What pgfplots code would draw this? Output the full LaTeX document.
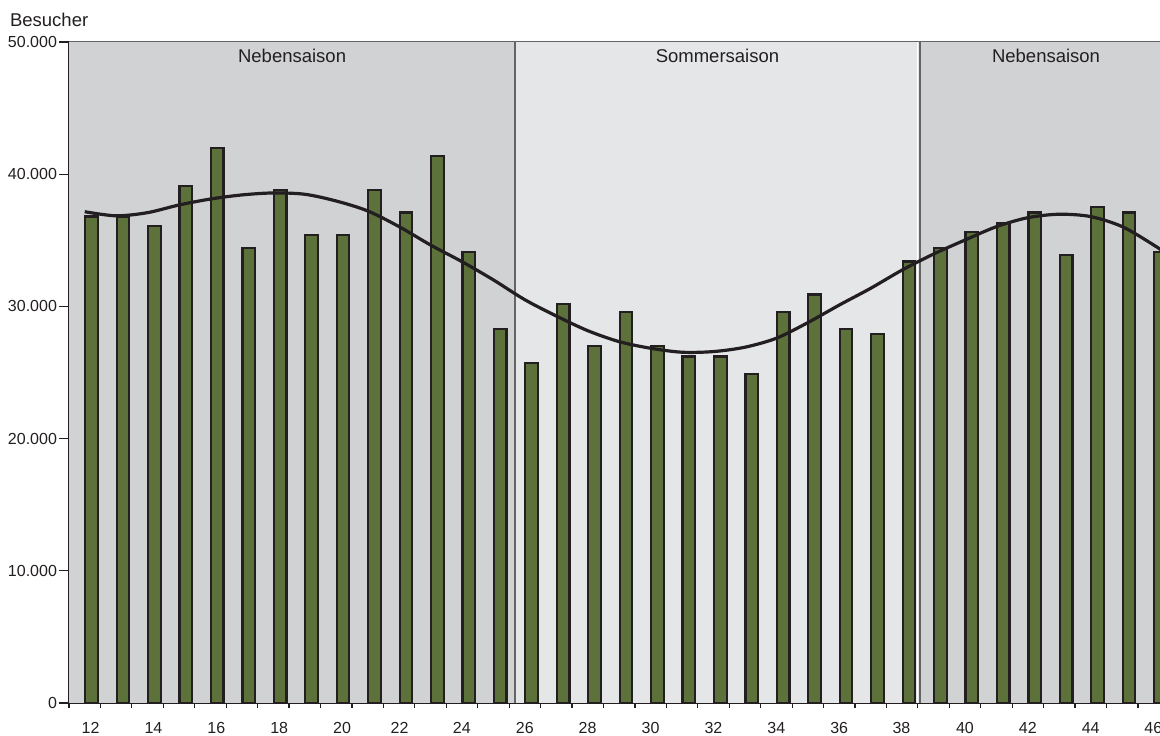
\documentclass[border=0pt]{standalone}
\usepackage{fontspec}
\setmainfont{Liberation Sans}
\usepackage{pgfplots}
\pgfplotsset{compat=1.18}
\usepackage{pgfplotstable}
\definecolor{barfill}{RGB}{92,114,58}
\definecolor{ink}{RGB}{35,31,32}
\definecolor{bgdark}{RGB}{209,210,212}
\definecolor{bglight}{RGB}{229,230,232}
\definecolor{gridc}{RGB}{100,100,102}

% week, visitors, smoothed trend
\pgfplotstableread{
wk visitors trend
12 36800 37160
13 36800 36850
14 36100 37090
15 39100 37670
16 42000 38120
17 34400 38430
18 38800 38580
19 35400 38480
20 35400 37970
21 38800 37220
22 37100 36030
23 41400 34640
24 34100 33380
25 28300 32000
26 25700 30500
27 30200 29270
28 27000 28160
29 29600 27330
30 27000 26830
31 26200 26530
32 26200 26580
33 24900 26910
34 29600 27590
35 30900 28770
36 28300 30100
37 27900 31370
38 33400 32750
39 34400 33960
40 35600 35020
41 36300 36030
42 37100 36710
43 33900 36970
44 37500 36790
45 37100 36030
46 34100 34640
47 nan   33050
}\besucher

\begin{document}
\begin{tikzpicture}[font=\fontsize{9.25}{11}\selectfont]
\begin{axis}[
    set layers,
    scale only axis,
    width=551.6pt, height=330.5pt,
    xmin=11.284, xmax=46.37,
    ymin=0, ymax=50000,
    axis lines=left,
    axis line style={-, draw=ink, line width=1pt},
    tick align=outside,
    tick style={draw=ink, line width=0.6pt},
    major tick length=2.5pt,
    xtick={11.284,12.284,...,46.3},
    xticklabels={},
    extra x ticks={11.97,13.97,15.97,17.97,19.97,21.8,23.78,25.78,27.78,29.78,31.78,33.78,35.78,37.76,39.78,41.78,43.78,45.77},
    extra x tick labels={12,14,16,18,20,22,24,26,28,30,32,34,36,38,40,42,44,46},
    extra x tick style={major tick length=0pt, grid=none},
    xticklabel style={yshift=-6pt},
    ytick={0,10000,...,50000},
    extra y ticks={0,10000,...,50000},
    extra y tick labels={},
    extra y tick style={major tick length=5pt, grid=none},
    ymajorgrids,
    grid style={gridc, line width=0.6pt},
    scaled y ticks=false,
    unbounded coords=discard,
    tick label style={font=\fontsize{8}{9.6}\selectfont, text=ink},
    /pgf/number format/.cd, 1000 sep={.}, assume math mode=true,
]
    % season backgrounds
    \fill[bgdark, on layer=axis background] (axis cs:11.284,0) rectangle (axis cs:25.47,50000);
    \fill[bglight, on layer=axis background] (axis cs:25.47,0) rectangle (axis cs:38.35,50000);
    \fill[bgdark, on layer=axis background] (axis cs:38.35,0) rectangle (axis cs:46.37,50000);
    \draw[white, line width=0.6pt, on layer=axis background] (axis cs:38.26,0) -- (axis cs:38.26,50000);
    \draw[gridc, line width=0.6pt, on layer=axis background] (axis cs:25.47,0) -- (axis cs:25.47,50000);
    \draw[gridc, line width=0.6pt, on layer=axis background] (axis cs:38.35,0) -- (axis cs:38.35,50000);

    \addplot[ybar, bar width=0.4, fill=barfill, draw=ink, line width=1.1pt]
        table[x=wk, y=visitors] {\besucher};
    \addplot[ink, line width=1.6pt, smooth, no markers]
        table[x expr=\thisrow{wk}-0.216, y=trend] {\besucher};

    \coordinate (TL) at (rel axis cs:0,1);
    \coordinate (BL) at (rel axis cs:0,0);
    \coordinate (TR) at (axis cs:45.985,50000);
    \coordinate (S1) at (axis cs:18.38,48480);
    \coordinate (S2) at (axis cs:31.91,48480);
    \coordinate (S3) at (axis cs:42.36,48480);
\end{axis}
\node[anchor=base, text=ink] at (S1) {Nebensaison};
\node[anchor=base, text=ink] at (S2) {Sommersaison};
\node[anchor=base, text=ink] at (S3) {Nebensaison};
\node[anchor=base west, text=ink] at ([xshift=-33pt,yshift=7.5pt]TL) {Besucher};
\pgfresetboundingbox
\path[use as bounding box] ([xshift=-34.5pt,yshift=-16.5pt]BL) rectangle ([yshift=21pt]TR);
\end{tikzpicture}
\end{document}
